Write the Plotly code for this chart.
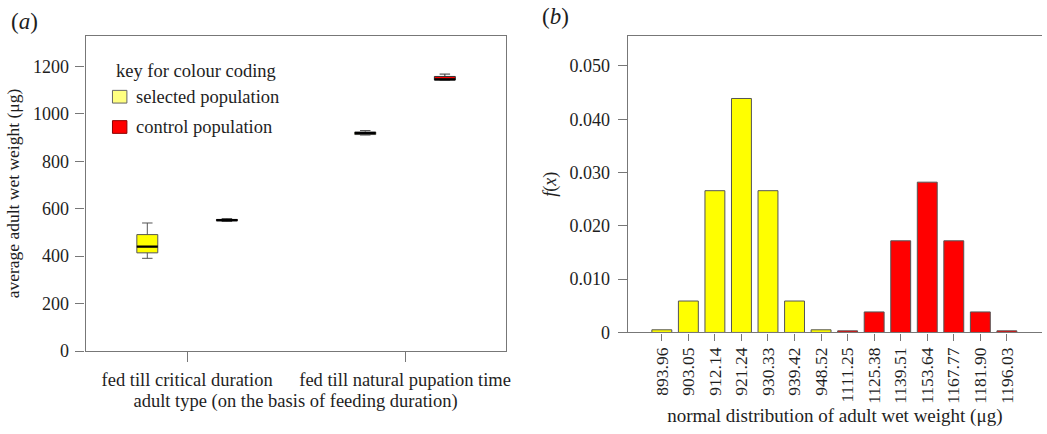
import plotly.graph_objects as go

# ---------------- data: panel (a) ----------------
groups = ["fed till critical duration", "fed till natural pupation time"]
group_pos = [0, 1]

sel_low = [391, 911]
sel_q1 = [414, 913]
sel_med = [440, 919]
sel_q3 = [491, 924]
sel_high = [540, 930]

ctl_low = [547, 1143]
ctl_q1 = [549, 1143]
ctl_med = [552, 1146]
ctl_q3 = [555, 1158]
ctl_high = [558, 1168]

y_ticks_a = [0, 200, 400, 600, 800, 1000, 1200]

# ---------------- data: panel (b) ----------------
bin_labels = ["893.96", "903.05", "912.14", "921.24", "930.33", "939.42", "948.52",
              "1111.25", "1125.38", "1139.51", "1153.64", "1167.77", "1181.90", "1196.03"]
bin_values = [0.0005, 0.0059, 0.0266, 0.0439, 0.0266, 0.0059, 0.0005,
              0.0003, 0.00385, 0.0172, 0.0282, 0.0172, 0.00385, 0.0003]
bin_group = ["selected", "selected", "selected", "selected", "selected", "selected", "selected",
             "control", "control", "control", "control", "control", "control", "control"]
y_ticks_b = [0, 0.01, 0.02, 0.03, 0.04, 0.05]
y_ticktext_b = ["0", "0.010", "0.020", "0.030", "0.040", "0.050"]

# ---------------- styles ----------------
FONT = "Liberation Serif"
TXT = "#1e1e1e"
FRAME = "#777777"
YELLOW = "#ffff00"
RED = "#ff0000"
color_map = {"selected": YELLOW, "control": RED}

W, H = 1047, 434


def px(x):
    return x / W


def py(y):
    return 1 - y / H


OFF = 0.1826   # box offset within group
BW = 0.096     # box width

fig = go.Figure()

sel_x = [p - OFF for p in group_pos]
ctl_x = [p + OFF for p in group_pos]

fig.add_trace(go.Box(
    x=sel_x, q1=sel_q1, median=sel_med, q3=sel_q3,
    lowerfence=sel_low, upperfence=sel_high,
    width=BW, whiskerwidth=0.5, fillcolor=YELLOW,
    line=dict(color="#555555", width=1), showlegend=False,
    xaxis="x", yaxis="y", hoverinfo="skip"))
fig.add_trace(go.Box(
    x=ctl_x, q1=ctl_q1, median=ctl_med, q3=ctl_q3,
    lowerfence=ctl_low, upperfence=ctl_high,
    width=BW, whiskerwidth=0.5, fillcolor=RED,
    line=dict(color="#333333", width=1), showlegend=False,
    xaxis="x", yaxis="y", hoverinfo="skip"))

# thick black median lines
mx, my = [], []
for xs, meds in ((sel_x, sel_med), (ctl_x, ctl_med)):
    for xc, m in zip(xs, meds):
        mx += [xc - BW / 2, xc + BW / 2, None]
        my += [m, m, None]
fig.add_trace(go.Scatter(x=mx, y=my, mode="lines", line=dict(color="black", width=2.2),
                         showlegend=False, hoverinfo="skip", xaxis="x", yaxis="y"))

# panel (b) bars
fig.add_trace(go.Bar(
    x=list(range(len(bin_labels))), y=bin_values,
    marker=dict(color=[color_map[g] for g in bin_group], line=dict(color="#555555", width=1)),
    width=0.75, showlegend=False, xaxis="x2", yaxis="y2", hoverinfo="skip"))

# ---------------- layout ----------------
xa_dom = [px(86), px(508)]
ya_dom = [py(359.3), py(37)]
xb_dom = [px(630.7), 1.0]
yb_dom = [py(340.3), py(37)]

axis_common = dict(showgrid=False, zeroline=False, showline=True, linecolor=FRAME, linewidth=1.2,
                   ticks="outside", tickcolor=FRAME, tickwidth=1.2,
                   tickfont=dict(family=FONT, size=18, color=TXT))

px_per_unit_a = 219.0
left_a = -102 / px_per_unit_a
right_a = 1 + 101 / px_per_unit_a

px_per_bin = 26.67
left_b = -34.3 / px_per_bin
right_b = left_b + (W - 630.7) / px_per_bin

fig.update_layout(
    width=W, height=H,
    margin=dict(l=0, r=0, t=0, b=0),
    paper_bgcolor="white", plot_bgcolor="white",
    font=dict(family=FONT, color=TXT),
    showlegend=False,
    xaxis=dict(axis_common, domain=xa_dom, anchor="y", range=[left_a, right_a], mirror=True,
               tickvals=group_pos, ticktext=groups, ticklen=10, ticklabelstandoff=2,
               tickfont=dict(family=FONT, size=18.5, color=TXT),
               title=dict(text="adult type (on the basis of feeding duration)",
                          font=dict(family=FONT, size=18.5, color=TXT), standoff=4)),
    yaxis=dict(axis_common, domain=ya_dom, anchor="x", range=[0, 1328], mirror=True,
               tickvals=y_ticks_a, ticklen=9, ticklabelstandoff=3,
               title=dict(text="average adult wet weight (μg)",
                          font=dict(family=FONT, size=17.5, color=TXT), standoff=8)),
    xaxis2=dict(axis_common, domain=xb_dom, anchor="y2", range=[left_b, right_b], mirror=True,
                tickvals=list(range(len(bin_labels))), ticktext=bin_labels, tickangle=-90, ticklen=7,
                tickfont=dict(family=FONT, size=17.5, color=TXT),
                title=dict(text="normal distribution of adult wet weight (μg)",
                           font=dict(family=FONT, size=19, color=TXT), standoff=5)),
    yaxis2=dict(axis_common, domain=yb_dom, anchor="x2", range=[0, 0.0556], mirror=False,
                tickvals=y_ticks_b, ticktext=y_ticktext_b, ticklen=9, ticklabelstandoff=4,
                title=dict(text="<i>f</i>(<i>x</i>)",
                           font=dict(family=FONT, size=18, color=TXT), standoff=8)),
)

# panel labels
fig.add_annotation(text="(<i>a</i>)", x=px(9), y=py(22), xref="paper", yref="paper",
                   xanchor="left", yanchor="middle", showarrow=False,
                   font=dict(family=FONT, size=23, color=TXT))
fig.add_annotation(text="(<i>b</i>)", x=px(543), y=py(17), xref="paper", yref="paper",
                   xanchor="left", yanchor="middle", showarrow=False,
                   font=dict(family=FONT, size=23, color=TXT))

# colour key
legend_title = "key for colour coding"
legend_items = [("selected population", "#ffff80", "#666666"),
                ("control population", RED, "#8b0000")]
fig.add_annotation(text=legend_title, x=px(115), y=py(72.5), xref="paper", yref="paper",
                   xanchor="left", yanchor="middle", showarrow=False,
                   font=dict(family=FONT, size=18.5, color=TXT))
item_y = [99, 130]
for (lbl, fc, lc), yc in zip(legend_items, item_y):
    fig.add_shape(type="rect", xref="paper", yref="paper",
                  x0=px(113), x1=px(127.5), y0=py(yc - 6.5), y1=py(yc + 6.5),
                  fillcolor=fc, line=dict(color=lc, width=1))
    fig.add_annotation(text=lbl, x=px(135), y=py(yc), xref="paper", yref="paper",
                       xanchor="left", yanchor="middle", showarrow=False,
                       font=dict(family=FONT, size=18.5, color=TXT))

# remove default page margin so the 1047x434 figure fills the window exactly
fig.write_html("out.html",
               config={"displayModeBar": False},
               post_script="document.body.style.margin='0';document.body.style.padding='0';"
                           "document.body.style.overflow='hidden';")
